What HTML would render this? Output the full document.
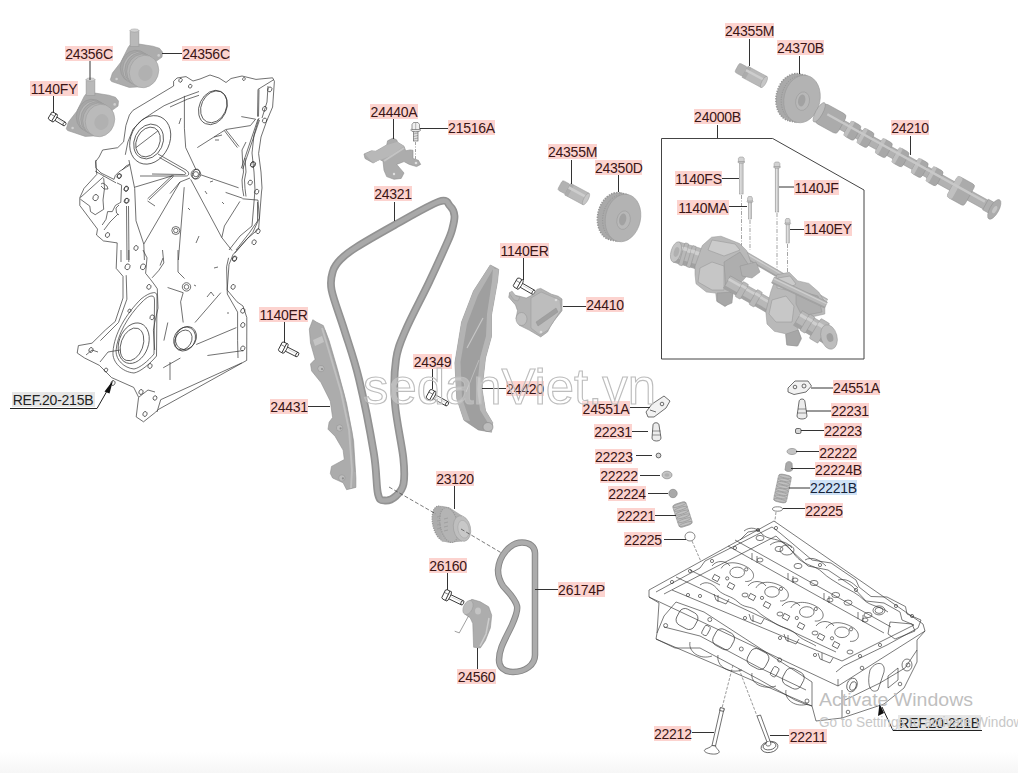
<!DOCTYPE html>
<html><head><meta charset="utf-8"><style>
*{margin:0;padding:0;box-sizing:border-box}
html,body{width:1018px;height:773px;overflow:hidden;background:#fff}
body{position:relative;font-family:"Liberation Sans",sans-serif}
svg{position:absolute;left:0;top:0}
.l{position:absolute;height:15px;font-size:14px;line-height:17px;letter-spacing:-0.25px;white-space:nowrap;color:#3a1515;background:#fcd3cf;text-align:center;overflow:visible}
.g{background:#e6e6e6;color:#222}
.b{background:#cfe2f6;color:#15233a}
</style></head>
<body>
<svg width="1018" height="773" viewBox="0 0 1018 773">

<defs><linearGradient id="bg" x1="0" y1="0" x2="0" y2="1"><stop offset="0" stop-color="#fff"/><stop offset="1" stop-color="#f6f6f6"/></linearGradient></defs>
<rect x="0" y="752" width="1018" height="21" fill="url(#bg)"/>
<g stroke="#333" stroke-width="0.7" fill="none" stroke-linejoin="round">
<polygon points="173.6,81.3 177,78 186,76.6 193,81 200,79 210,75 219,78 226,82.5 231,78.5 242,76 256,79.4 272.6,77.8 274.4,81.3 272.6,107 266.7,121 261,137 258.6,153.5 261,172 262,188 261.5,192 258.6,229 246.8,239 233,254.7 229,264.5 227.2,290 237,301.8 243,306 246.8,317.5 246.8,330 246.7,360.4 158.3,409.5 155.8,412 143.5,421.8 136.2,416.9 138.6,397.2 133.7,387.4 111.6,377.6 99.3,365.3 84.6,358 77.2,353 78.4,345.6 92,343.2 105.4,330 115.2,321.5 123,298 123,276.3 116.2,268.4 117.2,242.9 103.4,240.9 96.5,235 97.5,229.1 79.8,205.5 79.8,197.7 84,188.4 96.8,174.4 95.6,161.6 99.1,157 102.6,150 117.7,147.7 123.6,141.8 125.9,125.5 129.4,115 132.9,110.4 173.6,86" fill="#fff"/>
<polyline points="258,89.4 257.5,116.6"/><polyline points="259,89.4 258.5,116.6"/><polyline points="184.4,95.9 184.4,128.2 185.7,147.6 196,169.6"/><polyline points="250.4,125.6 225.8,129.5 197.3,147.6"/><polyline points="241.3,116.6 255.6,119.2 250.4,125.6"/><polyline points="258,119 241.3,168.3"/><polyline points="259.5,120 242.8,169"/><polyline points="224.5,130.8 237.4,147.6"/><polyline points="226,130 239,146.5"/><polyline points="258,89.4 273.7,79.7"/><polyline points="259,118 254,135 252,153 254,172 255,190 252,226 240,236 229,250"/><polyline points="268,86 267,102 262,118"/><polyline points="214,137 222,135"/><polyline points="215,140 219,140"/><polyline points="179,124 181,118"/><polyline points="199,91.5 184.8,96.6 164.1,105.7 153.8,112.2 142.2,119.9 133.1,129 127.9,141.9 125.3,154.8"/><polyline points="199,95.3 187.4,99.2 170,107"/><polyline points="136,147.6 158,130.8"/><polyline points="95.9,160 95.9,167.8 101,173 114,179.4 115.3,175.5 119.2,171.6 129.5,165.2"/><polyline points="80.4,197.6 103.7,176.6"/><polyline points="95.2,171.2 116.1,182.9"/><polyline points="80.4,199.2 89.8,206.1 90.5,211.6 95.2,214.7 103.7,209.3"/><polyline points="103.7,178.2 104.5,188.3 103,200 103.7,209.3"/><polyline points="101,184 103,183 107,186 108,189 104,189 101,186"/><polyline points="117,182.9 121.6,185.2 120.8,202.3 115.4,205.4 112.3,211.6 107.6,211.6 106,219.3 102.2,225"/><polyline points="119,205 116,208 116.5,213 119,215"/><polyline points="118,214 110,222 104,230"/><polyline points="126.5,206 127,260"/><polyline points="128.5,206 129,260"/><polyline points="122,170 126,166 130,164"/><polyline points="128.9,160 134.7,188.5 136,220.8 143.8,244.1 144.4,260"/><polyline points="134.7,187.2 173.5,175.5"/><polyline points="180,182 143.8,244.1"/><polyline points="147.6,198.8 172.2,175.5"/><polyline points="149,200 173.5,176.5"/><polyline points="147.6,201 155,206"/><polyline points="201,174.9 238.6,187.8"/><polyline points="190.7,179.4 221.8,237.6 232,250.6"/><polyline points="190,178 180,182 170,193.6"/><polyline points="184.2,187.2 178.4,260"/><polyline points="225.6,192.4 242.5,198.2"/><polyline points="242.5,198.8 258,200.1 259.3,218.2 252.8,232.5 234.7,253.2"/><polyline points="239.9,201.4 224.4,226 221.8,237.6"/><polyline points="242.5,160 243.5,172 242,180 242.5,188.5 243.8,196.2"/><polyline points="245,158 246,172 244.5,180 245,188.5 246,196.5"/><polyline points="257.5,202 257.5,221 250,232 236,250"/><polyline points="246,142 242,150 242.5,160"/><polyline points="210,182 213,181"/><polyline points="205,191 207,194"/><polyline points="222,202 224,204"/><polyline points="188,208 190,210"/><polyline points="196,243 199,236"/><polyline points="126.2,275.2 126.9,299.2 118.5,322.5 100.4,340.6"/><polyline points="121,250 121,262"/><polyline points="128.8,250 128.8,262"/><polyline points="143,250 147,257.8 145.6,273.3 150.8,279.8 154.7,285 157.3,288.8 158,308.2 154.7,322.5 153.4,330.2 154.7,350"/><polyline points="162.5,250 163.8,262.9 158.6,270.7 152.1,277.8"/><polyline points="167.6,287.5 183.2,292.7"/><polyline points="178,250 178,272 184.5,278.5"/><polyline points="183.2,292.7 180.6,301.8 183.2,322.5"/><polyline points="195,322.5 220.8,292.7"/><polyline points="207,297 211,292 214,296"/><polyline points="196.2,344.5 236.4,327.6"/><polyline points="167.8,322.5 163.9,340.6"/><polyline points="160,265.5 163,258"/><polyline points="218,267 214,268"/><polyline points="194,285 196,286"/><polyline points="227,313 229,313"/><polyline points="228.6,257.8 226.6,266.8 227.3,294 237.6,312.1 237.6,340.6 238,358"/><polyline points="241.8,362.9 160.7,399.7 157,412"/><polyline points="207.4,355.5 243,350.6"/><polyline points="163.2,367.8 180.4,358"/><polyline points="120,350 108,352 100,362"/><polyline points="86,355 92,350 98,352"/><polyline points="139,397 148,390 155,392"/><polyline points="170,362 170,380"/>
<ellipse cx="180.5" cy="80.3" rx="1.6" ry="2" transform="rotate(25 180.5 80.3)"/><ellipse cx="190.2" cy="86.2" rx="1.6" ry="2" transform="rotate(25 190.2 86.2)"/><ellipse cx="243.9" cy="79" rx="1.2000000000000002" ry="1.5" transform="rotate(25 243.9 79)"/><ellipse cx="269.8" cy="89.4" rx="2.0" ry="2.5" transform="rotate(25 269.8 89.4)"/><ellipse cx="264.6" cy="108.8" rx="2.0" ry="2.5" transform="rotate(25 264.6 108.8)"/><ellipse cx="264.6" cy="120.5" rx="2.0" ry="2.5" transform="rotate(25 264.6 120.5)"/><ellipse cx="253" cy="164.4" rx="2.4000000000000004" ry="3" transform="rotate(25 253 164.4)"/><ellipse cx="95.6" cy="197.6" rx="2.5600000000000005" ry="3.2" transform="rotate(25 95.6 197.6)"/><ellipse cx="119.3" cy="175.9" rx="1.8399999999999999" ry="2.3" transform="rotate(25 119.3 175.9)"/><ellipse cx="126.2" cy="189" rx="2.0" ry="2.5" transform="rotate(25 126.2 189)"/><ellipse cx="127" cy="200.7" rx="2.0" ry="2.5" transform="rotate(25 127 200.7)"/><ellipse cx="119.2" cy="176.2" rx="2.0" ry="2.5" transform="rotate(25 119.2 176.2)"/><ellipse cx="126.3" cy="188.5" rx="2.0" ry="2.5" transform="rotate(25 126.3 188.5)"/><ellipse cx="126.3" cy="200.8" rx="2.0" ry="2.5" transform="rotate(25 126.3 200.8)"/><ellipse cx="107.5" cy="235" rx="2.0" ry="2.5" transform="rotate(25 107.5 235)"/><ellipse cx="136" cy="248" rx="2.0" ry="2.5" transform="rotate(25 136 248)"/><ellipse cx="252.8" cy="164.5" rx="2.0" ry="2.5" transform="rotate(25 252.8 164.5)"/><ellipse cx="250.2" cy="182.6" rx="2.0" ry="2.5" transform="rotate(25 250.2 182.6)"/><ellipse cx="256.7" cy="191.7" rx="2.0" ry="2.5" transform="rotate(25 256.7 191.7)"/><ellipse cx="258" cy="231.2" rx="2.0" ry="2.5" transform="rotate(25 258 231.2)"/><ellipse cx="254.1" cy="242.2" rx="2.0" ry="2.5" transform="rotate(25 254.1 242.2)"/><ellipse cx="234.7" cy="258.4" rx="2.0" ry="2.5" transform="rotate(25 234.7 258.4)"/><ellipse cx="127.5" cy="266.8" rx="2.4000000000000004" ry="3" transform="rotate(25 127.5 266.8)"/><ellipse cx="143" cy="266.8" rx="2.4000000000000004" ry="3" transform="rotate(25 143 266.8)"/><ellipse cx="148.9" cy="286.9" rx="2.0" ry="2.5" transform="rotate(25 148.9 286.9)"/><ellipse cx="129.5" cy="310.8" rx="1.4400000000000002" ry="1.8" transform="rotate(25 129.5 310.8)"/><ellipse cx="152.1" cy="317.3" rx="2.0" ry="2.5" transform="rotate(25 152.1 317.3)"/><ellipse cx="234.4" cy="259" rx="2.0" ry="2.5" transform="rotate(25 234.4 259)"/><ellipse cx="233.1" cy="286.9" rx="2.0" ry="2.5" transform="rotate(25 233.1 286.9)"/><ellipse cx="242.8" cy="310.8" rx="2.0" ry="2.5" transform="rotate(25 242.8 310.8)"/><ellipse cx="242.8" cy="325" rx="2.0" ry="2.5" transform="rotate(25 242.8 325)"/><ellipse cx="242.8" cy="348.4" rx="2.0" ry="2.5" transform="rotate(25 242.8 348.4)"/><ellipse cx="113" cy="383" rx="2.0" ry="2.5" transform="rotate(25 113 383)"/><ellipse cx="91" cy="350" rx="2.0" ry="2.5" transform="rotate(25 91 350)"/><ellipse cx="150" cy="366" rx="2.0" ry="2.5" transform="rotate(25 150 366)"/><ellipse cx="141" cy="392" rx="2.0" ry="2.5" transform="rotate(25 141 392)"/><ellipse cx="145" cy="414" rx="2.0" ry="2.5" transform="rotate(25 145 414)"/><ellipse cx="155" cy="398" rx="1.8399999999999999" ry="2.3" transform="rotate(25 155 398)"/><ellipse cx="106" cy="370" rx="1.6" ry="2" transform="rotate(25 106 370)"/>
<ellipse cx="150.2" cy="139.9" rx="19.4" ry="25.2" transform="rotate(25 150.2 139.9)"/>
<ellipse cx="148.6" cy="141.5" rx="14.2" ry="18" transform="rotate(25 148.6 141.5)"/>
<ellipse cx="148" cy="142" rx="11.5" ry="15.5" transform="rotate(25 148 142)"/>
<ellipse cx="212.9" cy="107.5" rx="13.6" ry="17.8" transform="rotate(25 212.9 107.5)"/>
<ellipse cx="213.8" cy="106.8" rx="12.4" ry="16.6" transform="rotate(25 213.8 106.8)"/>
<path d="M158,154 L186,170 C190,172.5 189.5,176.5 185,176 L140,176"/><path d="M159.5,157.5 L184,171.5 C186.5,173 186,175 183.5,174.5 L152,174"/><ellipse cx="196" cy="174" rx="3.5" ry="5" transform="rotate(20 196 174)"/><circle cx="195.9" cy="174.2" r="4.8"/><circle cx="195.9" cy="174.2" r="2.6"/>
<circle cx="186.5" cy="286.9" r="4.2"/><circle cx="186.5" cy="286.9" r="2.3"/>
<circle cx="175.8" cy="230.5" r="4"/><circle cx="175.8" cy="230.5" r="2.2"/>
<path d="M153.4,292.7 C156,292 157,294 157,298 L156.5,356 C150,364 140,372 134,373 C122,372 112,362 113,352 C114,334 126,314 141,299 C146,295 150,293 153.4,292.7 Z"/>
<path d="M152,296 C154,296 154.5,298 154.5,301 L154,354 C148,361 140,368 134,369 C124,368 116,360 116,351 C117,335 128,316 142,302 C146,298 149,296 152,296 Z"/>
<ellipse cx="133.7" cy="343.2" rx="14.7" ry="20.9" transform="rotate(20 133.7 343.2)"/>
<ellipse cx="132" cy="344.4" rx="11" ry="17" transform="rotate(20 132 344.4)"/>
<ellipse cx="184.6" cy="339" rx="10.4" ry="12.5" transform="rotate(30 184.6 339)"/>
<ellipse cx="186" cy="338" rx="10" ry="12" transform="rotate(30 186 338)"/>
<ellipse cx="183.4" cy="340" rx="8" ry="10.5" transform="rotate(30 183.4 340)"/>
</g><polygon points="110.3,79.80000000000001 112.4,73.1 120.8,62.2 128.4,47 130.9,44.099999999999994 139.3,44.099999999999994 152.8,46.2 159.5,48.3 162.5,52.099999999999994 162,57.099999999999994 156.1,61.3 154.5,68 152,79 144.4,86.6 129.2,87.4 119.1,84 111.6,81.5" fill="#acacac" stroke="#969696" stroke-width="0.6"/><rect x="130.1" y="30.5" width="8.8" height="16" fill="#b9b9b9" stroke="#9a9a9a" stroke-width="0.6"/><ellipse cx="134.5" cy="30.5" rx="4.4" ry="1.6" fill="#d2d2d2" stroke="#9a9a9a" stroke-width="0.5"/><ellipse cx="135" cy="66.5" rx="14.5" ry="16.5" fill="#a6a6a6" stroke="#949494" stroke-width="0.5" transform="rotate(20 135 66.5)"/><ellipse cx="137.5" cy="68.0" rx="14.5" ry="16.5" fill="#b6b6b6" stroke="#949494" stroke-width="0.5" transform="rotate(20 137.5 68.0)"/><ellipse cx="139.5" cy="69.0" rx="14.5" ry="16.5" fill="#a9a9a9" stroke="#949494" stroke-width="0.5" transform="rotate(20 139.5 69.0)"/><ellipse cx="141.5" cy="70.3" rx="14.5" ry="16.5" fill="#b4b4b4" stroke="#949494" stroke-width="0.5" transform="rotate(20 141.5 70.3)"/><ellipse cx="144" cy="71.5" rx="14.5" ry="16.5" fill="#bababa" stroke="#999" stroke-width="0.5" transform="rotate(20 144 71.5)"/><ellipse cx="145.5" cy="73.0" rx="7" ry="8" fill="#b1b1b1" transform="rotate(20 145.5 73.0)"/><circle cx="116.6" cy="79" r="1.3" fill="#cfcfcf"/><circle cx="158.7" cy="55.400000000000006" r="1.3" fill="#cfcfcf"/><polygon points="66.3,128.8 68.4,122.1 76.8,111.2 84.4,96 86.9,93.1 95.3,93.1 108.8,95.2 115.5,97.3 118.5,101.1 118,106.1 112.1,110.3 110.5,117 108,128 100.4,135.6 85.2,136.4 75.1,133 67.6,130.5" fill="#acacac" stroke="#969696" stroke-width="0.6"/><rect x="86.1" y="79.5" width="8.8" height="16" fill="#b9b9b9" stroke="#9a9a9a" stroke-width="0.6"/><ellipse cx="90.5" cy="79.5" rx="4.4" ry="1.6" fill="#d2d2d2" stroke="#9a9a9a" stroke-width="0.5"/><ellipse cx="91" cy="115.5" rx="14.5" ry="16.5" fill="#a6a6a6" stroke="#949494" stroke-width="0.5" transform="rotate(20 91 115.5)"/><ellipse cx="93.5" cy="117.0" rx="14.5" ry="16.5" fill="#b6b6b6" stroke="#949494" stroke-width="0.5" transform="rotate(20 93.5 117.0)"/><ellipse cx="95.5" cy="118.0" rx="14.5" ry="16.5" fill="#a9a9a9" stroke="#949494" stroke-width="0.5" transform="rotate(20 95.5 118.0)"/><ellipse cx="97.5" cy="119.3" rx="14.5" ry="16.5" fill="#b4b4b4" stroke="#949494" stroke-width="0.5" transform="rotate(20 97.5 119.3)"/><ellipse cx="100" cy="120.5" rx="14.5" ry="16.5" fill="#bababa" stroke="#999" stroke-width="0.5" transform="rotate(20 100 120.5)"/><ellipse cx="101.5" cy="122.0" rx="7" ry="8" fill="#b1b1b1" transform="rotate(20 101.5 122.0)"/><circle cx="72.6" cy="128" r="1.3" fill="#cfcfcf"/><circle cx="114.7" cy="104.4" r="1.3" fill="#cfcfcf"/><g transform="translate(53,117) rotate(31.3)" stroke="#222" stroke-width="0.8" fill="#fff">
<rect x="2" y="-1.9" width="11.46291201783626" height="3.8"/>
<ellipse cx="13.46291201783626" cy="0" rx="1.3" ry="1.9"/>
<line x1="5" y1="-0.5" x2="11.46291201783626" y2="-0.5" stroke="#bbb" stroke-width="0.5"/>
<ellipse cx="1.8" cy="0" rx="1.8" ry="4.6"/>
<path d="M-3.5,-3.44 L-2,-4.3 L1,-4.3 L1,4.3 L-2,4.3 L-3.5,3.44 Z"/>
<line x1="-3.5" y1="-1.2899999999999998" x2="1" y2="-1.2899999999999998" stroke-width="0.5"/>
</g><g transform="translate(283.4,347.6) rotate(26.9)" stroke="#222" stroke-width="0.8" fill="#fff">
<rect x="2" y="-2.3" width="13.473848907107769" height="4.6"/>
<ellipse cx="15.473848907107769" cy="0" rx="1.3" ry="2.3"/>
<line x1="5" y1="-0.5" x2="13.473848907107769" y2="-0.5" stroke="#bbb" stroke-width="0.5"/>
<ellipse cx="1.8" cy="0" rx="1.8" ry="5.5"/>
<path d="M-3.5,-4.16 L-2,-5.2 L1,-5.2 L1,5.2 L-2,5.2 L-3.5,4.16 Z"/>
<line x1="-3.5" y1="-1.56" x2="1" y2="-1.56" stroke-width="0.5"/>
</g><g transform="translate(518.4,283.6) rotate(29.9)" stroke="#222" stroke-width="0.8" fill="#fff">
<rect x="2" y="-2.3" width="15.426990560621775" height="4.6"/>
<ellipse cx="17.426990560621775" cy="0" rx="1.3" ry="2.3"/>
<line x1="5" y1="-0.5" x2="15.426990560621775" y2="-0.5" stroke="#bbb" stroke-width="0.5"/>
<ellipse cx="1.8" cy="0" rx="1.8" ry="5.5"/>
<path d="M-3.5,-4.16 L-2,-5.2 L1,-5.2 L1,5.2 L-2,5.2 L-3.5,4.16 Z"/>
<line x1="-3.5" y1="-1.56" x2="1" y2="-1.56" stroke-width="0.5"/>
</g><g transform="translate(431.2,395.1) rotate(28.8)" stroke="#222" stroke-width="0.8" fill="#fff">
<rect x="2" y="-2.3" width="16.036906608396023" height="4.6"/>
<ellipse cx="18.036906608396023" cy="0" rx="1.3" ry="2.3"/>
<line x1="5" y1="-0.5" x2="16.036906608396023" y2="-0.5" stroke="#bbb" stroke-width="0.5"/>
<ellipse cx="1.8" cy="0" rx="1.8" ry="5.5"/>
<path d="M-3.5,-4.16 L-2,-5.2 L1,-5.2 L1,5.2 L-2,5.2 L-3.5,4.16 Z"/>
<line x1="-3.5" y1="-1.56" x2="1" y2="-1.56" stroke-width="0.5"/>
</g><g transform="translate(446.8,595.3) rotate(25.8)" stroke="#222" stroke-width="0.8" fill="#fff">
<rect x="2" y="-2.3" width="15.219175357722563" height="4.6"/>
<ellipse cx="17.219175357722563" cy="0" rx="1.3" ry="2.3"/>
<line x1="5" y1="-0.5" x2="15.219175357722563" y2="-0.5" stroke="#bbb" stroke-width="0.5"/>
<ellipse cx="1.8" cy="0" rx="1.8" ry="5.5"/>
<path d="M-3.5,-4.16 L-2,-5.2 L1,-5.2 L1,5.2 L-2,5.2 L-3.5,4.16 Z"/>
<line x1="-3.5" y1="-1.56" x2="1" y2="-1.56" stroke-width="0.5"/>
</g><polygon points="364,154 371.3,150.8 375.8,151.2 386.7,144.9 387.6,140.8 393,138.1 396.7,139.9 397.6,142.2 404,146.2 405.7,150.8 410.2,149.9 413,150.3 413,158.5 418.4,160.3 420.7,164.4 416.6,166.6 409.3,164.4 404,161.6 396.7,164.4 404,173 401.2,178.4 394,179.3 386.7,176.6 384,170.3 383,161.2 379.5,159.4 373.1,163 365,158.5" fill="#acacac" stroke="#8e8e8e" stroke-width="0.6"/>
<polygon points="365,154 372,150.8 376,151.2 387,145 397,142 404,146.2 390,156 380,160 373,163" fill="#b8b8b8"/>
<polyline points="384,161 404,148" stroke="#c4c4c4" stroke-width="2" fill="none"/>
<circle cx="394" cy="174" r="1.2" fill="#e0e0e0"/><circle cx="416" cy="163" r="1.3" fill="#e0e0e0"/>
<g stroke="#555" stroke-width="0.6"><rect x="413.5" y="131" width="4.5" height="10" fill="#e2e2e2"/>
<line x1="413.5" y1="134" x2="418" y2="133" stroke-width="0.4"/><line x1="413.5" y1="136.5" x2="418" y2="135.5" stroke-width="0.4"/><line x1="413.5" y1="139" x2="418" y2="138" stroke-width="0.4"/>
<ellipse cx="415.7" cy="130" rx="5" ry="1.8" fill="#e8e8e8"/>
<polygon points="412,124.5 413.5,122.5 418,122.5 419.5,124.5 419.5,129.5 412,129.5" fill="#f0f0f0"/><line x1="415.7" y1="123" x2="415.7" y2="129.5" stroke-width="0.4"/></g>
<line x1="415.5" y1="142" x2="415.5" y2="160" stroke="#666" stroke-width="0.6" stroke-dasharray="3,1.5,1,1.5"/><path d="M439,201.6 C448.2,198.4 447.4,203.6 450,206 C452.6,208.4 454.2,212.0 454.5,216 C454.8,220.0 453.2,225.5 452,230 C450.8,234.5 450.9,234.2 447,243 C443.1,251.8 435.6,268.5 428.7,283 C421.8,297.5 411.1,317.2 405.7,330 C400.2,342.8 397.8,347.2 396,359.5 C394.2,371.8 393.8,387.4 395,403.8 C396.2,420.2 401.9,444.5 403.3,457.9 C404.7,471.3 404.7,477.6 403.5,484 C402.3,490.4 399.1,493.2 396,496 C392.9,498.8 388.0,500.8 385,500.5 C382.0,500.2 379.9,501.9 378,494 C376.1,486.1 377.0,472.2 373.8,453 C370.6,433.8 363.9,399.5 359,379 C354.1,358.5 348.9,344.8 344.3,330 C339.7,315.2 333.5,299.8 331.6,290 C329.7,280.2 331.5,276.1 333,271 C334.5,265.9 336.7,263.4 340.5,259.5 C344.3,255.6 347.0,253.2 356,247.5 C365.0,241.8 380.9,232.7 394.7,225 C408.5,217.3 429.8,204.8 439,201.6 Z" fill="none" stroke="#929292" stroke-width="7.8" stroke-linejoin="round"/>
<path d="M439,201.6 C448.2,198.4 447.4,203.6 450,206 C452.6,208.4 454.2,212.0 454.5,216 C454.8,220.0 453.2,225.5 452,230 C450.8,234.5 450.9,234.2 447,243 C443.1,251.8 435.6,268.5 428.7,283 C421.8,297.5 411.1,317.2 405.7,330 C400.2,342.8 397.8,347.2 396,359.5 C394.2,371.8 393.8,387.4 395,403.8 C396.2,420.2 401.9,444.5 403.3,457.9 C404.7,471.3 404.7,477.6 403.5,484 C402.3,490.4 399.1,493.2 396,496 C392.9,498.8 388.0,500.8 385,500.5 C382.0,500.2 379.9,501.9 378,494 C376.1,486.1 377.0,472.2 373.8,453 C370.6,433.8 363.9,399.5 359,379 C354.1,358.5 348.9,344.8 344.3,330 C339.7,315.2 333.5,299.8 331.6,290 C329.7,280.2 331.5,276.1 333,271 C334.5,265.9 336.7,263.4 340.5,259.5 C344.3,255.6 347.0,253.2 356,247.5 C365.0,241.8 380.9,232.7 394.7,225 C408.5,217.3 429.8,204.8 439,201.6 Z" fill="none" stroke="#a9a9a9" stroke-width="4.6" stroke-linejoin="round"/><polygon points="312.8,319.7 316.3,322 323.3,325.5 329.1,340.6 337.3,368.6 346.6,403.5 353.6,440.8 355.9,478 355.9,487.4 346.6,489.7 343.1,482.8 332.6,478 330.3,473.4 331.5,466.4 344.3,459.5 343.1,450.1 335,436.2 328,429.2 329.1,422.2 332.6,417.5 330.3,401.2 321,382.6 311.6,370.9 310.5,364 315.1,359.3 310.5,343 309.3,329" fill="#acacac" stroke="#8e8e8e" stroke-width="0.6"/>
<polyline points="322,328 331,358 341,392 349,430 352,470 351,488" stroke="#c0c0c0" stroke-width="1.8" fill="none"/>
<polyline points="325,330 334,360 344,394 352,432 355,472" stroke="#979797" stroke-width="0.5" fill="none"/>
<g fill="#bdbdbd" stroke="#8e8e8e" stroke-width="0.5"><circle cx="321" cy="368.6" r="3.2"/><circle cx="339.6" cy="428" r="3.2"/><circle cx="341.9" cy="478" r="3.2"/></g>
<g fill="#8e8e8e"><circle cx="322" cy="369" r="1.1"/><circle cx="340.6" cy="428.4" r="1.1"/><circle cx="342.9" cy="478.4" r="1.1"/></g>
<polygon points="313,340 322,336 324,342 315,346" fill="#c4c4c4"/><polygon points="490.3,265 498.7,269.4 497.5,281.3 491.5,314.9 491.5,336.4 485.5,358 482,389 485.5,410.7 492.7,422.7 491.5,432.2 478.3,429.9 464,420.3 456.8,398.7 454.9,362.8 461.6,322 473.5,291" fill="#9f9f9f" stroke="#8c8c8c" stroke-width="0.6"/>
<polygon points="490.3,265 494,267.5 478,295 467,324 460.5,362 462,398 470,421 464,420.3 456.8,398.7 454.9,362.8 461.6,322 473.5,291" fill="#b3b3b3"/>
<polygon points="498.7,269.4 497.5,281.3 491.5,314.9 491.5,336.4 485.5,358 482,389 485.5,410.7 492.7,422.7 491.5,432.2 487,431 488,423 480,410 477,389 480,358 486,336 487,314 492,281 493,268" fill="#b6b6b6"/>
<line x1="483" y1="318" x2="467" y2="348" stroke="#c8c8c8" stroke-width="1.1"/>
<line x1="479" y1="360" x2="466" y2="392" stroke="#c0c0c0" stroke-width="0.9"/>
<ellipse cx="488" cy="427" rx="5" ry="4.5" fill="#bdbdbd" stroke="#888" stroke-width="0.6"/><g stroke-linejoin="round">
<ellipse cx="441.5" cy="523.5" rx="8.8" ry="17.8" fill="#acacac" stroke="#959595" stroke-width="1.2" stroke-dasharray="1.3,1" transform="rotate(-12 441.5 523.5)"/>
<polygon points="441.5,505.8 449,507.2 462,515.5 462,541.5 449,542.8 441.5,541.2" fill="#b0b0b0"/>
<ellipse cx="449" cy="525" rx="8.8" ry="17.8" fill="#b4b4b4" stroke="#999" stroke-width="1.2" stroke-dasharray="1.3,1" transform="rotate(-12 449 525)"/>
<ellipse cx="462" cy="528.5" rx="8.5" ry="13" fill="#bebebe" stroke="#9c9c9c" stroke-width="0.6" transform="rotate(-12 462 528.5)"/>
<ellipse cx="463.5" cy="529.2" rx="5.5" ry="9" fill="#c8c8c8" stroke="#a4a4a4" stroke-width="0.5" transform="rotate(-12 463.5 529.2)"/>
<g stroke="#9a9a9a" stroke-width="0.8"><line x1="437" y1="517" x2="441" y2="516"/><line x1="437" y1="521" x2="441" y2="520"/><line x1="437" y1="525" x2="441" y2="524"/><line x1="437" y1="529" x2="441" y2="528"/>
<line x1="444" y1="519" x2="448" y2="518"/><line x1="444" y1="523" x2="448" y2="522"/><line x1="444" y1="527" x2="448" y2="526"/><line x1="444" y1="531" x2="448" y2="530"/></g>
</g>
<line x1="389" y1="487" x2="436" y2="514" stroke="#444" stroke-width="0.7" stroke-dasharray="4,2"/>
<line x1="461" y1="529" x2="505" y2="555" stroke="#444" stroke-width="0.7" stroke-dasharray="4,2"/><path d="M522,542.5 C530,542.5 535,547 535,553 L535,655 C535,665 525,672 513,672 C504,672 499,667 499,660 C499,648 506,638 512,625 C516,616 518,610 517,606 C515,598 508,592 503,586 C499,580 498,574 498,570 C499,556 510,542.5 522,542.5 Z" fill="none" stroke="#888" stroke-width="6.5" stroke-linejoin="round"/>
<path d="M522,542.5 C530,542.5 535,547 535,553 L535,655 C535,665 525,672 513,672 C504,672 499,667 499,660 C499,648 506,638 512,625 C516,616 518,610 517,606 C515,598 508,592 503,586 C499,580 498,574 498,570 C499,556 510,542.5 522,542.5 Z" fill="none" stroke="#acacac" stroke-width="4.5" stroke-linejoin="round"/><polygon points="464.3,609.3 466.9,602.6 471.9,599.3 480.3,601.8 488.7,606.8 491.7,615.2 490.4,627.8 485.4,640.5 480.3,648 473.6,647.2 472.8,623.6 470.2,617.8 465.2,614.4" fill="#adadad" stroke="#909090" stroke-width="0.6"/>
<ellipse cx="468" cy="607.5" rx="4.5" ry="7.5" fill="#bdbdbd" stroke="#989898" stroke-width="0.5" transform="rotate(25 468 607.5)"/>
<ellipse cx="478" cy="611" rx="3" ry="3.5" fill="#c4c4c4"/>
<polyline points="489,618 486,634 480,646" fill="none" stroke="#cdcdcd" stroke-width="1.5"/>
<polyline points="468.5,616 459.3,632.9 454.7,631.2" fill="none" stroke="#888" stroke-width="0.8"/><g transform="rotate(12 623 218)">
<ellipse cx="615" cy="218" rx="17.5" ry="24" fill="#a9a9a9" stroke="#969696" stroke-width="1.5" stroke-dasharray="1.4,1.2"/>
<rect x="615" y="194" width="8" height="48" fill="#adadad"/>
<line x1="615" y1="194" x2="623" y2="194" stroke="#969696" stroke-width="1.5" stroke-dasharray="1.4,1.2"/>
<line x1="615" y1="242" x2="623" y2="242" stroke="#969696" stroke-width="1.5" stroke-dasharray="1.4,1.2"/>
<ellipse cx="618.6" cy="218" rx="15.75" ry="22.32" fill="none" stroke="#8f8f8f" stroke-width="0.8" stroke-dasharray="1,1.5"/>
<ellipse cx="623" cy="218" rx="17.5" ry="24" fill="#b3b3b3" stroke="#9a9a9a" stroke-width="0.6"/>
<ellipse cx="624" cy="220" rx="6.65" ry="9.36" fill="#b8b8b8" stroke="#979797" stroke-width="0.5"/>
<ellipse cx="623" cy="219.5" rx="3.5" ry="6.0" fill="#a2a2a2" stroke="none"/>
</g><g transform="rotate(12 802 99)">
<ellipse cx="794" cy="99" rx="18" ry="24" fill="#a9a9a9" stroke="#969696" stroke-width="1.5" stroke-dasharray="1.4,1.2"/>
<rect x="794" y="75" width="8" height="48" fill="#adadad"/>
<line x1="794" y1="75" x2="802" y2="75" stroke="#969696" stroke-width="1.5" stroke-dasharray="1.4,1.2"/>
<line x1="794" y1="123" x2="802" y2="123" stroke="#969696" stroke-width="1.5" stroke-dasharray="1.4,1.2"/>
<ellipse cx="797.6" cy="99" rx="16.2" ry="22.32" fill="none" stroke="#8f8f8f" stroke-width="0.8" stroke-dasharray="1,1.5"/>
<ellipse cx="802" cy="99" rx="18" ry="24" fill="#b3b3b3" stroke="#9a9a9a" stroke-width="0.6"/>
<ellipse cx="803" cy="101" rx="6.84" ry="9.36" fill="#b8b8b8" stroke="#979797" stroke-width="0.5"/>
<ellipse cx="802" cy="100.5" rx="3.6" ry="6.0" fill="#a2a2a2" stroke="none"/>
</g><g transform="translate(560,185) rotate(28.3)">
<rect x="0" y="-5.46" width="9.449486758549376" height="10.92" rx="2" fill="#b2b2b2" stroke="#9a9a9a" stroke-width="0.5"/>
<rect x="8.85889383614004" y="-6.5" width="20.67075228432676" height="13" fill="#b9b9b9" stroke="#9a9a9a" stroke-width="0.5"/>
<rect x="8.85889383614004" y="-6.5" width="3.5435575344560157" height="13" fill="#acacac"/>
<rect x="8.85889383614004" y="-3.25" width="20.67075228432676" height="2.6" fill="#cdcdcd"/>
<ellipse cx="29.5296461204668" cy="0" rx="2.2" ry="6.5" fill="#c6c6c6" stroke="#9a9a9a" stroke-width="0.5"/>
</g><g transform="translate(737,67.5) rotate(28.2)">
<rect x="0" y="-5.25" width="9.807099469262052" height="10.5" rx="2" fill="#b2b2b2" stroke="#9a9a9a" stroke-width="0.5"/>
<rect x="9.194155752433172" y="-6.25" width="21.453030089010735" height="12.5" fill="#b9b9b9" stroke="#9a9a9a" stroke-width="0.5"/>
<rect x="9.194155752433172" y="-6.25" width="3.677662300973269" height="12.5" fill="#acacac"/>
<rect x="9.194155752433172" y="-3.125" width="21.453030089010735" height="2.5" fill="#cdcdcd"/>
<ellipse cx="30.64718584144391" cy="0" rx="2.2" ry="6.25" fill="#c6c6c6" stroke="#9a9a9a" stroke-width="0.5"/>
</g><polygon points="536.9,289.4 540.7,288.4 551.4,294.2 558.2,296.2 562,299 562,310.7 554.3,320.4 550.4,326.3 547.5,332 540.7,336.9 529.1,330.1 519.4,325.3 516,318.5 517.5,310.7 515.5,304.9 508.7,297.2 509.7,292.8 514.5,295.2 519.4,296.2 526.2,298.1 534,294.2" fill="#b3b3b3" stroke="#929292" stroke-width="0.6"/>
<polygon points="531,298 541,292 560,300 561,310 548,330 540,335 531,328" fill="#bdbdbd" stroke="#9a9a9a" stroke-width="0.5"/>
<ellipse cx="521.5" cy="319" rx="5.5" ry="6.5" fill="#c0c0c0" stroke="#929292" stroke-width="0.5"/>
<polygon points="536,322 556,308 558,312 538,326" fill="#a0a0a0" stroke="#8e8e8e" stroke-width="0.4"/>
<circle cx="556" cy="300" r="1.3" fill="#ddd"/><circle cx="541" cy="332" r="1.3" fill="#ddd"/>
<polygon points="509,293 512,291 516,296 520,297 518,301 514,300" fill="#b8b8b8" stroke="#929292" stroke-width="0.4"/><g transform="translate(826.2,116.2) rotate(29.0)" stroke="#8f8f8f" stroke-width="0.5"><rect x="0" y="-5" width="192.16891007652617" height="10" fill="#b1b1b1"/><rect x="-8" y="-11" width="26" height="22" rx="4" fill="#ababab"/><ellipse cx="-8" cy="0" rx="3.5" ry="11" fill="#bdbdbd"/><rect x="24" y="-8.5" width="12" height="17" rx="3" fill="#a8a8a8"/><rect x="24" y="-8.5" width="4" height="17" rx="1" fill="#bfbfbf" stroke="none"/><rect x="39" y="-8.5" width="12" height="17" rx="3" fill="#a8a8a8"/><rect x="39" y="-8.5" width="4" height="17" rx="1" fill="#bfbfbf" stroke="none"/><rect x="60" y="-8.5" width="12" height="17" rx="3" fill="#a8a8a8"/><rect x="60" y="-8.5" width="4" height="17" rx="1" fill="#bfbfbf" stroke="none"/><rect x="79" y="-8.5" width="12" height="17" rx="3" fill="#a8a8a8"/><rect x="79" y="-8.5" width="4" height="17" rx="1" fill="#bfbfbf" stroke="none"/><rect x="101" y="-8.5" width="12" height="17" rx="3" fill="#a8a8a8"/><rect x="101" y="-8.5" width="4" height="17" rx="1" fill="#bfbfbf" stroke="none"/><rect x="118" y="-8.5" width="12" height="17" rx="3" fill="#a8a8a8"/><rect x="118" y="-8.5" width="4" height="17" rx="1" fill="#bfbfbf" stroke="none"/><rect x="144" y="-12" width="20" height="24" rx="3" fill="#ababab"/><rect x="144" y="-12" width="6" height="24" rx="2" fill="#c0c0c0" stroke="none"/><rect x="182.16891007652617" y="-6" width="10" height="12" fill="#b0b0b0"/><ellipse cx="192.16891007652617" cy="0" rx="4.5" ry="11" fill="#acacac"/><ellipse cx="192.66891007652617" cy="0" rx="2" ry="4" fill="#c4c4c4" stroke="none"/><rect x="0" y="-3.5" width="180.16891007652617" height="2.5" fill="#c8c8c8" stroke="none"/></g><polyline points="661.5,138.5 772.7,138.5 864,190 864,359 661.5,359 661.5,138.5" fill="none" stroke="#444" stroke-width="1"/><rect x="739.5" y="162" width="3.6" height="32" fill="#c9c9c9" stroke="#8e8e8e" stroke-width="0.5"/><rect x="740.3" y="162" width="1" height="32" fill="#e0e0e0"/><ellipse cx="741.3" cy="162" rx="3.5" ry="1.3" fill="#c4c4c4" stroke="#8e8e8e" stroke-width="0.5"/><path d="M738.4,161.5 L738.4,158.5 L739.55,157 L743.05,157 L744.1999999999999,158.5 L744.1999999999999,161.5 Z" fill="#d2d2d2" stroke="#8e8e8e" stroke-width="0.5"/><rect x="775.2" y="167" width="3.6" height="45" fill="#c9c9c9" stroke="#8e8e8e" stroke-width="0.5"/><rect x="776.0" y="167" width="1" height="45" fill="#e0e0e0"/><ellipse cx="777" cy="167" rx="3.5" ry="1.3" fill="#c4c4c4" stroke="#8e8e8e" stroke-width="0.5"/><path d="M774.1,166.5 L774.1,163.5 L775.25,162 L778.75,162 L779.9,163.5 L779.9,166.5 Z" fill="#d2d2d2" stroke="#8e8e8e" stroke-width="0.5"/><rect x="748.4" y="201.5" width="3.2" height="17.5" fill="#c9c9c9" stroke="#8e8e8e" stroke-width="0.5"/><rect x="749.1999999999999" y="201.5" width="1" height="17.5" fill="#e0e0e0"/><ellipse cx="750" cy="201.5" rx="3.0" ry="1.3" fill="#c4c4c4" stroke="#8e8e8e" stroke-width="0.5"/><path d="M747.6,201.0 L747.6,198.0 L748.5,196.5 L751.5,196.5 L752.4,198.0 L752.4,201.0 Z" fill="#d2d2d2" stroke="#8e8e8e" stroke-width="0.5"/><rect x="786.1" y="223.5" width="3.2" height="19.5" fill="#c9c9c9" stroke="#8e8e8e" stroke-width="0.5"/><rect x="786.9" y="223.5" width="1" height="19.5" fill="#e0e0e0"/><ellipse cx="787.7" cy="223.5" rx="3.0" ry="1.3" fill="#c4c4c4" stroke="#8e8e8e" stroke-width="0.5"/><path d="M785.3000000000001,223.0 L785.3000000000001,220.0 L786.2,218.5 L789.2,218.5 L790.1,220.0 L790.1,223.0 Z" fill="#d2d2d2" stroke="#8e8e8e" stroke-width="0.5"/><g stroke="#666" stroke-width="0.6" stroke-dasharray="4,1.5,1,1.5">
<line x1="741.5" y1="195" x2="741.5" y2="246"/><line x1="750" y1="220" x2="750" y2="250"/>
<line x1="777" y1="213" x2="777" y2="300"/><line x1="787.5" y1="244" x2="787.5" y2="320"/>
</g><g transform="translate(737,250) rotate(30.3)"><rect x="0" y="-3.25" width="103.07764064044152" height="6.5" fill="#b8b8b8" stroke="#939393" stroke-width="0.5"/><rect x="0" y="-2.08" width="103.07764064044152" height="1.17" fill="#cfcfcf"/><rect x="0" y="1.82" width="103.07764064044152" height="1.43" fill="#a2a2a2"/></g><g transform="translate(676,252) rotate(16.5)"><rect x="0" y="-10.5" width="28.160255680657446" height="21" fill="#b8b8b8" stroke="#939393" stroke-width="0.5"/><rect x="0" y="-6.720000000000001" width="28.160255680657446" height="3.78" fill="#cfcfcf"/><rect x="0" y="5.88" width="28.160255680657446" height="4.62" fill="#a2a2a2"/><rect x="6" y="-11.5" width="4" height="23" rx="1" fill="#b8b8b8" stroke="#939393" stroke-width="0.5"/><rect x="6" y="-7.36" width="4" height="3.68" fill="#cfcfcf"/><rect x="14" y="-11.0" width="4" height="22" rx="1" fill="#b8b8b8" stroke="#939393" stroke-width="0.5"/><rect x="14" y="-7.04" width="4" height="3.52" fill="#cfcfcf"/></g><ellipse cx="676" cy="252" rx="5" ry="10.5" fill="#c4c4c4" stroke="#939393" stroke-width="0.5" transform="rotate(16 676 252)"/><ellipse cx="676.5" cy="252" rx="2.5" ry="5" fill="#b0b0b0" transform="rotate(16 676.5 252)"/><g stroke="#929292" stroke-width="0.5" stroke-linejoin="round">
<polygon points="695,266.2 702.3,245.5 711.6,237.2 721,236.2 739.5,243.5 746.8,250.7 754,271.4 751,275.5 743.7,274.5 737.5,288 733.3,292 731.3,301.4 725,306.6 716.8,301.4 715.7,293.1 706.4,292 696,283.8 695,274.5" fill="#b9b9b9"/>
<polygon points="712,240 735,244 740,250 724,256 708,250" fill="#cbcbcb"/>
<polygon points="700,268 712,262 724,266 724,290 712,290 698,282" fill="#c6c6c6"/>
<polygon points="724,262 740,252 752,270 738,286 726,290" fill="#aeaeae"/>
<polygon points="717,293 733,292 732,303 725,306 717,301" fill="#a7a7a7"/>
<polygon points="740,266 756,262 760,272 752,278 742,276" fill="#b0b0b0"/>
</g><g transform="translate(727,282) rotate(29.6)"><rect x="0" y="-7.0" width="50.60632371551998" height="14" fill="#b8b8b8" stroke="#939393" stroke-width="0.5"/><rect x="0" y="-4.48" width="50.60632371551998" height="2.52" fill="#cfcfcf"/><rect x="0" y="3.92" width="50.60632371551998" height="3.08" fill="#a2a2a2"/><rect x="14" y="-8.5" width="6" height="17" rx="1" fill="#b8b8b8" stroke="#939393" stroke-width="0.5"/><rect x="14" y="-5.4399999999999995" width="6" height="2.72" fill="#cfcfcf"/><rect x="30" y="-8.5" width="6" height="17" rx="1" fill="#b8b8b8" stroke="#939393" stroke-width="0.5"/><rect x="30" y="-5.4399999999999995" width="6" height="2.72" fill="#cfcfcf"/></g><g stroke="#929292" stroke-width="0.5" stroke-linejoin="round">
<polygon points="765.8,311.6 770.7,292 776.9,274.7 789.2,272.3 797.8,280.9 808.8,283.4 818.7,292 824.8,301.8 824.8,314 813.7,316.5 801.5,317.8 797.8,328.8 801.5,338.7 797.8,346 786.7,344.8 785.5,333.7 774.4,331.3 767,324" fill="#b9b9b9"/>
<polygon points="772,300 786,296 794,306 792,322 776,322 769,314" fill="#c7c7c7"/>
<polygon points="796,290 818,296 822,312 802,316 796,304" fill="#aeaeae"/>
<polygon points="778,278 790,276 796,284 786,290 777,288" fill="#cacaca"/>
<polygon points="786,334 798,330 801,338 797,346 787,345" fill="#a7a7a7"/>
</g><g transform="translate(773,280) rotate(25.3)"><rect x="0" y="-3.25" width="58.60034129593445" height="6.5" fill="#b8b8b8" stroke="#939393" stroke-width="0.5"/><rect x="0" y="-2.08" width="58.60034129593445" height="1.17" fill="#cfcfcf"/><rect x="0" y="1.82" width="58.60034129593445" height="1.43" fill="#a2a2a2"/></g><g transform="translate(798,318) rotate(31.0)"><rect x="0" y="-8.5" width="34.9857113690718" height="17" fill="#b8b8b8" stroke="#939393" stroke-width="0.5"/><rect x="0" y="-5.4399999999999995" width="34.9857113690718" height="3.06" fill="#cfcfcf"/><rect x="0" y="4.76" width="34.9857113690718" height="3.74" fill="#a2a2a2"/><rect x="8" y="-9.5" width="6" height="19" rx="1" fill="#b8b8b8" stroke="#939393" stroke-width="0.5"/><rect x="8" y="-6.08" width="6" height="3.04" fill="#cfcfcf"/><rect x="20" y="-11.5" width="10" height="23" rx="1" fill="#b8b8b8" stroke="#939393" stroke-width="0.5"/><rect x="20" y="-7.36" width="10" height="3.68" fill="#cfcfcf"/></g><ellipse cx="829" cy="337" rx="8" ry="12.5" fill="#bdbdbd" stroke="#939393" stroke-width="0.5" transform="rotate(-15 829 337)"/><ellipse cx="830" cy="337.5" rx="3.3" ry="4.5" fill="#a0a0a0" transform="rotate(-15 830 337.5)"/><g stroke="#333" stroke-width="0.7" stroke-linejoin="round">
<path d="M646,412 L652,404 L664,396 L670,401 L666,408 L654,417 L648,417 Z" fill="#f2f2f2"/>
<circle cx="662" cy="404" r="1.8" fill="none"/><path d="M650,410 L656,412" fill="none"/>
<path d="M653,425 C653,422 659,422 659,425 L661,438 C661,442 652,442 652,438 Z" fill="#ececec"/>
<line x1="652.5" y1="431" x2="660.5" y2="431" stroke-width="0.5"/><line x1="652.5" y1="435" x2="660.5" y2="435" stroke-width="0.5"/>
<circle cx="658.5" cy="455.5" r="2.4" fill="#d8d8d8"/>
<ellipse cx="667" cy="475" rx="5" ry="3.8" fill="#c4c4c4" stroke="#8a8a8a"/><ellipse cx="667" cy="475" rx="2.5" ry="1.8" fill="#b0b0b0" stroke="none"/>
<circle cx="673" cy="493.5" r="4.2" fill="#a9a9a9" stroke="#8a8a8a"/>
<ellipse cx="690" cy="536.5" rx="5" ry="4.5" fill="none" stroke="#555"/>
<path d="M788,388 L795,381 L808,381 L811.5,386 L806,392 L794,394.5 L788,392 Z" fill="#f2f2f2"/>
<circle cx="804" cy="386" r="2" fill="none"/><circle cx="795" cy="387" r="1.8" fill="none"/>
<path d="M799,402 C799,398 805,398 805,402 L807,416 C807,420 797,420 797,416 Z" fill="#ececec"/>
<line x1="798" y1="409" x2="806" y2="409" stroke-width="0.5"/><line x1="797.5" y1="413" x2="806.5" y2="413" stroke-width="0.5"/>
<rect x="795.5" y="428.5" width="5.5" height="5" rx="1.5" fill="#d8d8d8"/>
<ellipse cx="792" cy="451.5" rx="5" ry="3" fill="#c4c4c4" stroke="#8a8a8a"/>
<path d="M785,470 L786,463.5 C787,461 791,461 792,463.5 L792.5,470 C790,472 787,472 785,470 Z" fill="#a9a9a9" stroke="#8a8a8a"/>
<ellipse cx="777.5" cy="509" rx="5" ry="2.2" fill="none" stroke="#555"/>
</g>
<g transform="rotate(-18 682.5 514.5)"><rect x="675.5" y="502.5" width="14" height="24" rx="3" fill="#c0c0c0" stroke="#949494" stroke-width="0.6"/><ellipse cx="682.5" cy="504.5" rx="7.0" ry="1.4" fill="none" stroke="#979797" stroke-width="0.7"/><ellipse cx="682.5" cy="508.5" rx="7.0" ry="1.4" fill="none" stroke="#979797" stroke-width="0.7"/><ellipse cx="682.5" cy="512.5" rx="7.0" ry="1.4" fill="none" stroke="#979797" stroke-width="0.7"/><ellipse cx="682.5" cy="516.5" rx="7.0" ry="1.4" fill="none" stroke="#979797" stroke-width="0.7"/><ellipse cx="682.5" cy="520.5" rx="7.0" ry="1.4" fill="none" stroke="#979797" stroke-width="0.7"/><ellipse cx="682.5" cy="524.5" rx="7.0" ry="1.4" fill="none" stroke="#979797" stroke-width="0.7"/></g><g transform="rotate(12 782.5 488.5)"><rect x="776.0" y="474.5" width="13" height="28" rx="3" fill="#c0c0c0" stroke="#949494" stroke-width="0.6"/><ellipse cx="782.5" cy="476.25" rx="6.5" ry="1.4" fill="none" stroke="#979797" stroke-width="0.7"/><ellipse cx="782.5" cy="479.75" rx="6.5" ry="1.4" fill="none" stroke="#979797" stroke-width="0.7"/><ellipse cx="782.5" cy="483.25" rx="6.5" ry="1.4" fill="none" stroke="#979797" stroke-width="0.7"/><ellipse cx="782.5" cy="486.75" rx="6.5" ry="1.4" fill="none" stroke="#979797" stroke-width="0.7"/><ellipse cx="782.5" cy="490.25" rx="6.5" ry="1.4" fill="none" stroke="#979797" stroke-width="0.7"/><ellipse cx="782.5" cy="493.75" rx="6.5" ry="1.4" fill="none" stroke="#979797" stroke-width="0.7"/><ellipse cx="782.5" cy="497.25" rx="6.5" ry="1.4" fill="none" stroke="#979797" stroke-width="0.7"/><ellipse cx="782.5" cy="500.75" rx="6.5" ry="1.4" fill="none" stroke="#979797" stroke-width="0.7"/></g>
<line x1="692" y1="541" x2="722" y2="610" stroke="#555" stroke-width="0.6" stroke-dasharray="3,1.5"/>
<line x1="776" y1="512" x2="770" y2="560" stroke="#555" stroke-width="0.6" stroke-dasharray="3,1.5"/>
<g stroke="#333" stroke-width="0.65" fill="none" stroke-linejoin="round"><polygon points="649,590 774,521 923,624 925,631 917,640 917,662 904,688 884,704 842,718 816,721 812,706 805,704 795,700 760,680 730,664 700,648 675,648 656,639 657,633 659,603 649,597" fill="#fff"/><polyline points="649,597 838,686 925,631"/><polyline points="838,679 838,686"/><polyline points="656,592 700,568 705,561 772,527 780,533 812,560 831,563 856,580 859,587 871,596.5 887,597 905.5,606.6 907,614 921,620 918,628 887,645 843.5,666 836,672"/><polyline points="664,594 706,572 776,536 808,566 828,570 852,586 866,601 884,603 900,612 902,620 914,625 884,640 842,661 672,590"/><line x1="728" y1="546" x2="884" y2="633"/><line x1="735" y1="540" x2="891" y2="627"/><line x1="676" y1="577" x2="836" y2="652"/><line x1="690" y1="570" x2="720" y2="585"/><ellipse cx="737.2" cy="572.4" rx="7.3" ry="5.3"/><circle cx="727.2" cy="578.4" r="1.6"/><circle cx="746.2" cy="569.4" r="1.6"/><path d="M721.2,568.4 C725.2,560.4 739.2,561.4 749.2,568.4 C757.2,574.4 753.2,582.4 745.2,581.4"/><ellipse cx="772" cy="591.9" rx="7.3" ry="5.3"/><circle cx="762" cy="597.9" r="1.6"/><circle cx="781" cy="588.9" r="1.6"/><path d="M756,587.9 C760,579.9 774,580.9 784,587.9 C792,593.9 788,601.9 780,600.9"/><ellipse cx="806.8" cy="612" rx="7.3" ry="5.3"/><circle cx="796.8" cy="618" r="1.6"/><circle cx="815.8" cy="609" r="1.6"/><path d="M790.8,608 C794.8,600 808.8,601 818.8,608 C826.8,614 822.8,622 814.8,621"/><ellipse cx="842" cy="632.3" rx="7.3" ry="5.3"/><circle cx="832" cy="638.3" r="1.6"/><circle cx="851" cy="629.3" r="1.6"/><path d="M826,628.3 C830,620.3 844,621.3 854,628.3 C862,634.3 858,642.3 850,641.3"/><ellipse cx="760" cy="538" rx="4" ry="2.6"/><ellipse cx="779" cy="549" rx="4" ry="2.6"/><ellipse cx="798" cy="566" rx="4" ry="2.6"/><ellipse cx="814" cy="583" rx="4" ry="2.6"/><ellipse cx="835.7" cy="595" rx="4" ry="2.6"/><ellipse cx="848" cy="602.7" rx="4" ry="2.6"/><ellipse cx="868" cy="615" rx="4" ry="2.6"/><ellipse cx="879" cy="610.4" rx="6" ry="4.5"/><ellipse cx="879" cy="610.4" rx="4" ry="3"/><ellipse cx="787" cy="550" rx="7" ry="5"/><path d="M740,540 L748,532 L760,530 M770,545 C776,540 786,540 792,548 M805,560 C812,556 820,560 826,566 M838,580 C846,578 852,582 858,588"/><polyline points="890,622 912,624 915,631 895,639 888,634 890,622"/><rect x="713" y="575.5" width="6" height="5" transform="rotate(28 716 578)"/><rect x="728" y="583.5" width="6" height="5" transform="rotate(28 731 586)"/><rect x="749" y="594.5" width="6" height="5" transform="rotate(28 752 597)"/><rect x="764" y="602.5" width="6" height="5" transform="rotate(28 767 605)"/><rect x="783" y="614.5" width="6" height="5" transform="rotate(28 786 617)"/><rect x="798" y="623.5" width="6" height="5" transform="rotate(28 801 626)"/><rect x="818" y="634.5" width="6" height="5" transform="rotate(28 821 637)"/><rect x="833" y="642.5" width="6" height="5" transform="rotate(28 836 645)"/><path d="M714,594 L716,600 L726,604 L729,599"/><path d="M749,614 L751,620 L761,624 L764,619"/><path d="M784,634 L786,640 L796,644 L799,639"/><path d="M818,653 L820,659 L830,663 L833,658"/><path d="M744,531 C750,526 758,528 762,534 C768,540 776,538 782,542 C790,546 794,556 800,560 C808,566 816,566 822,572 C828,578 836,582 842,586 C850,590 858,594 864,600 C870,606 880,606 888,612"/><path d="M700,585 C706,580 714,584 718,590 C724,596 732,596 738,602 C744,608 750,606 756,610 C762,616 770,620 776,624 C782,628 790,628 796,634 C802,640 810,642 816,646"/><path d="M712,566 C716,560 726,560 730,566 M748,586 C752,580 762,580 766,586 M782,606 C786,600 796,600 800,606 M816,626 C820,620 830,620 834,626"/><line x1="752" y1="553" x2="752" y2="560"/><line x1="757" y1="556" x2="757" y2="563"/><line x1="788" y1="573" x2="788" y2="580"/><line x1="793" y1="576" x2="793" y2="583"/><line x1="824" y1="593" x2="824" y2="600"/><line x1="829" y1="596" x2="829" y2="603"/><line x1="858" y1="612" x2="858" y2="619"/><line x1="863" y1="615" x2="863" y2="622"/><line x1="718" y1="595" x2="718" y2="602"/><line x1="753" y1="615" x2="753" y2="622"/><line x1="788" y1="635" x2="788" y2="642"/><line x1="822" y1="653" x2="822" y2="660"/><ellipse cx="745" cy="595" rx="3" ry="2"/><ellipse cx="780" cy="614" rx="3" ry="2"/><ellipse cx="815" cy="633" rx="3" ry="2"/><ellipse cx="850" cy="652" rx="3" ry="2"/><ellipse cx="760" cy="560" rx="3" ry="2"/><ellipse cx="795" cy="580" rx="3" ry="2"/><ellipse cx="830" cy="600" rx="3" ry="2"/><ellipse cx="865" cy="620" rx="3" ry="2"/><circle cx="672" cy="582" r="1.6"/><circle cx="690" cy="571" r="1.6"/><circle cx="712" cy="561" r="1.6"/><circle cx="735" cy="548" r="1.6"/><circle cx="758" cy="530" r="1.6"/><circle cx="776" cy="528" r="1.6"/><circle cx="820" cy="565" r="1.6"/><circle cx="856" cy="590" r="1.6"/><circle cx="896" cy="606" r="1.6"/><circle cx="912" cy="616" r="1.6"/><circle cx="880" cy="645" r="1.6"/><circle cx="860" cy="656" r="1.6"/><circle cx="700" cy="596" r="1.6"/><circle cx="745" cy="618" r="1.6"/><circle cx="780" cy="638" r="1.6"/><circle cx="815" cy="655" r="1.6"/><circle cx="688" cy="595" r="1.6"/><polyline points="657,633 664,616 676,602 704,612 812,682 812,706 656,639"/><polyline points="664,627 700,636 760,668 806,690"/><rect x="677" y="610" width="20" height="18" rx="6" transform="rotate(28 687 619)"/><rect x="713.6" y="630.3" width="20" height="18" rx="6" transform="rotate(28 723.6 639.3)"/><rect x="748" y="650" width="20" height="18" rx="6" transform="rotate(28 758 659)"/><rect x="783.3" y="669.6" width="20" height="18" rx="6" transform="rotate(28 793.3 678.6)"/><rect x="703" y="625.5" width="6" height="10" rx="2" transform="rotate(28 706 630.5)"/><rect x="771.7" y="666.7" width="6" height="10" rx="2" transform="rotate(28 774.7 671.7)"/><circle cx="665.6" cy="625.5" r="2"/><circle cx="709.8" cy="619.6" r="2"/><circle cx="741.3" cy="649" r="2"/><circle cx="779.6" cy="660" r="2"/><circle cx="807" cy="701" r="2"/><path d="M690,642 C688,652 700,660 712,656 M718,655 C716,667 730,674 742,670 M752,673 C750,684 764,690 776,686 M786,690 C784,700 796,708 808,704"/><polyline points="842,690 842,718"/><polyline points="845,700 880,683 905,668 917,650"/><ellipse cx="852" cy="685" rx="5" ry="7" transform="rotate(20 852 685)"/><ellipse cx="853" cy="686" rx="3" ry="4.5" transform="rotate(20 853 686)"/><ellipse cx="907" cy="665" rx="5" ry="6"/><circle cx="908" cy="665" r="2"/><path d="M870,670 C876,660 886,662 884,672 L878,690 C872,694 866,688 870,670 Z"/><path d="M888,676 L898,668 L898,680 L888,688 Z"/><circle cx="848" cy="712" r="1.8"/><circle cx="900" cy="684" r="1.8"/><circle cx="862" cy="668" r="1.8"/></g>
<line x1="733" y1="665" x2="722" y2="708" stroke="#555" stroke-width="0.6" stroke-dasharray="3,1.5"/>
<line x1="739" y1="669" x2="757" y2="716" stroke="#555" stroke-width="0.6" stroke-dasharray="3,1.5"/>
<g stroke="#333" stroke-width="0.7" fill="#fff" stroke-linejoin="round">
<polygon points="720.5,708 724,709 715.5,746 712,745.5"/>
<path d="M712,745.5 C710,748 706,748.5 705,749.5 C703,751 706,753.5 712,754 C717,754.5 720,753 719,751 C718,749.5 716,748 715.5,746 Z"/>
<rect x="720" y="708" width="4" height="3" transform="rotate(13 722 709.5)"/>
<polygon points="757,716 760.5,715 770,741 767,742"/>
<ellipse cx="769.5" cy="747" rx="8.5" ry="5.5" transform="rotate(-10 769.5 747)"/>
<ellipse cx="769.5" cy="746" rx="6.5" ry="3.8" transform="rotate(-10 769.5 746)"/>
<path d="M767,742 C765,744 766,746 768,746 C771,746 771.5,744 770,741"/>
</g><g stroke="#333" stroke-width="1" fill="none"><line x1="90" y1="61" x2="90" y2="80"/><line x1="162" y1="53.5" x2="182" y2="53.5"/><line x1="53.5" y1="96" x2="53.5" y2="113"/><line x1="393.5" y1="119" x2="393.5" y2="139"/><line x1="420" y1="128.5" x2="448" y2="128.5"/><line x1="749.5" y1="39" x2="749.5" y2="66"/><line x1="799.5" y1="56" x2="799.5" y2="74"/><line x1="717.5" y1="125" x2="717.5" y2="138"/><line x1="910.5" y1="136" x2="910.5" y2="155"/><line x1="571.5" y1="160" x2="571.5" y2="184"/><line x1="618.5" y1="175" x2="618.5" y2="192"/><line x1="722" y1="178.5" x2="739" y2="178.5"/><line x1="779" y1="187" x2="794" y2="187"/><line x1="729" y1="206.5" x2="747" y2="206.5"/><line x1="790" y1="229.5" x2="804" y2="229.5"/><line x1="394.5" y1="202" x2="394.5" y2="221"/><line x1="523.5" y1="258" x2="523.5" y2="280"/><line x1="563" y1="306.5" x2="586" y2="306.5"/><line x1="284.5" y1="322" x2="284.5" y2="343"/><line x1="432.5" y1="369" x2="432.5" y2="389"/><line x1="481.5" y1="388.5" x2="506" y2="388.5"/><line x1="308" y1="406.5" x2="330" y2="406.5"/><line x1="630" y1="407.5" x2="650" y2="407.5"/><line x1="632" y1="431.5" x2="648" y2="431.5"/><line x1="636" y1="455.5" x2="652" y2="455.5"/><line x1="640" y1="475.5" x2="660" y2="475.5"/><line x1="648" y1="493.5" x2="668" y2="493.5"/><line x1="655" y1="515.5" x2="676" y2="515.5"/><line x1="664" y1="539.5" x2="686" y2="539.5"/><line x1="454.5" y1="486" x2="454.5" y2="509"/><line x1="447.5" y1="572" x2="447.5" y2="590"/><line x1="535" y1="589.5" x2="558" y2="589.5"/><line x1="477.5" y1="648" x2="477.5" y2="669"/><line x1="811" y1="388" x2="833" y2="388"/><line x1="806" y1="411" x2="831" y2="411"/><line x1="801" y1="430.5" x2="824" y2="430.5"/><line x1="796" y1="451.5" x2="819" y2="451.5"/><line x1="791" y1="468.5" x2="815" y2="468.5"/><line x1="789" y1="488" x2="810" y2="488"/><line x1="783" y1="508.5" x2="805" y2="508.5"/><line x1="692" y1="732.5" x2="714" y2="732.5"/><line x1="770" y1="735.5" x2="789" y2="735.5"/></g><g stroke="#222" stroke-width="1" fill="none">
<polyline points="10,408.5 97,408.5 111,384"/>
<polyline points="893,730.5 982,730.5"/><line x1="893" y1="730.5" x2="882" y2="707"/>
</g>
<polygon points="113,380.5 104.5,391.5 109.5,393.5" fill="#111"/>
<polygon points="879.5,703.5 878,716 884,713" fill="#111"/>

</svg>
<div class="l" style="left:65px;top:46px;width:48px">24356C</div><div class="l" style="left:182px;top:46px;width:48px">24356C</div><div class="l" style="left:30px;top:81px;width:48px">1140FY</div><div class="l" style="left:370px;top:104px;width:48px">24440A</div><div class="l" style="left:448px;top:120px;width:47px">21516A</div><div class="l" style="left:725px;top:23px;width:49px">24355M</div><div class="l" style="left:777px;top:40px;width:47px">24370B</div><div class="l" style="left:694px;top:109px;width:47px">24000B</div><div class="l" style="left:891px;top:120px;width:38px">24210</div><div class="l" style="left:548px;top:144px;width:49px">24355M</div><div class="l" style="left:595px;top:160px;width:47px">24350D</div><div class="l" style="left:675px;top:171px;width:47px">1140FS</div><div class="l" style="left:794px;top:180px;width:45px">1140JF</div><div class="l" style="left:677px;top:200px;width:52px">1140MA</div><div class="l" style="left:804px;top:221px;width:48px">1140EY</div><div class="l" style="left:374px;top:186px;width:38px">24321</div><div class="l" style="left:500px;top:243px;width:49px">1140ER</div><div class="l" style="left:586px;top:297px;width:38px">24410</div><div class="l" style="left:259px;top:307px;width:49px">1140ER</div><div class="l" style="left:413px;top:354px;width:39px">24349</div><div class="l" style="left:506px;top:381px;width:38px">24420</div><div class="l g" style="left:11.5px;top:392px;width:83.0px">REF.20-215B</div><div class="l" style="left:270px;top:399px;width:38px">24431</div><div class="l" style="left:582px;top:401px;width:48px">24551A</div><div class="l" style="left:594px;top:424px;width:38px">22231</div><div class="l" style="left:595px;top:449px;width:37px">22223</div><div class="l" style="left:600px;top:468px;width:38px">22222</div><div class="l" style="left:608px;top:486px;width:38px">22224</div><div class="l" style="left:617px;top:508px;width:38px">22221</div><div class="l" style="left:624px;top:532px;width:38px">22225</div><div class="l" style="left:436px;top:471px;width:38px">23120</div><div class="l" style="left:429px;top:558px;width:38px">26160</div><div class="l" style="left:558px;top:582px;width:47px">26174P</div><div class="l" style="left:457px;top:669px;width:39px">24560</div><div class="l" style="left:833px;top:380px;width:47px">24551A</div><div class="l" style="left:831px;top:403px;width:38px">22231</div><div class="l" style="left:824px;top:423px;width:38px">22223</div><div class="l" style="left:819px;top:445px;width:38px">22222</div><div class="l" style="left:815px;top:462px;width:47px">22224B</div><div class="l b" style="left:810px;top:480px;width:47px">22221B</div><div class="l" style="left:805px;top:503px;width:38px">22225</div><div class="l" style="left:654px;top:726px;width:37px">22212</div><div class="l" style="left:789px;top:729px;width:38px">22211</div><div class="l g" style="left:898px;top:715px;width:83px">REF.20-221B</div>
<svg width="1018" height="773" viewBox="0 0 1018 773">
<text x="363" y="404" font-family="Liberation Sans, sans-serif" font-size="50" fill="rgba(255,255,255,0.25)" stroke="#bdbdbd" stroke-width="1.1" textLength="293" lengthAdjust="spacingAndGlyphs">sedanViet.vn</text>
<text x="819" y="705.5" font-family="Liberation Sans, sans-serif" font-size="18" fill="#bfbfbf" textLength="154" lengthAdjust="spacingAndGlyphs">Activate Windows</text>
<text x="819" y="727.2" font-family="Liberation Sans, sans-serif" font-size="14.5" fill="#c8c8c8" textLength="215" lengthAdjust="spacingAndGlyphs">Go to Settings to activate Windows.</text>
</svg>
</body></html>
